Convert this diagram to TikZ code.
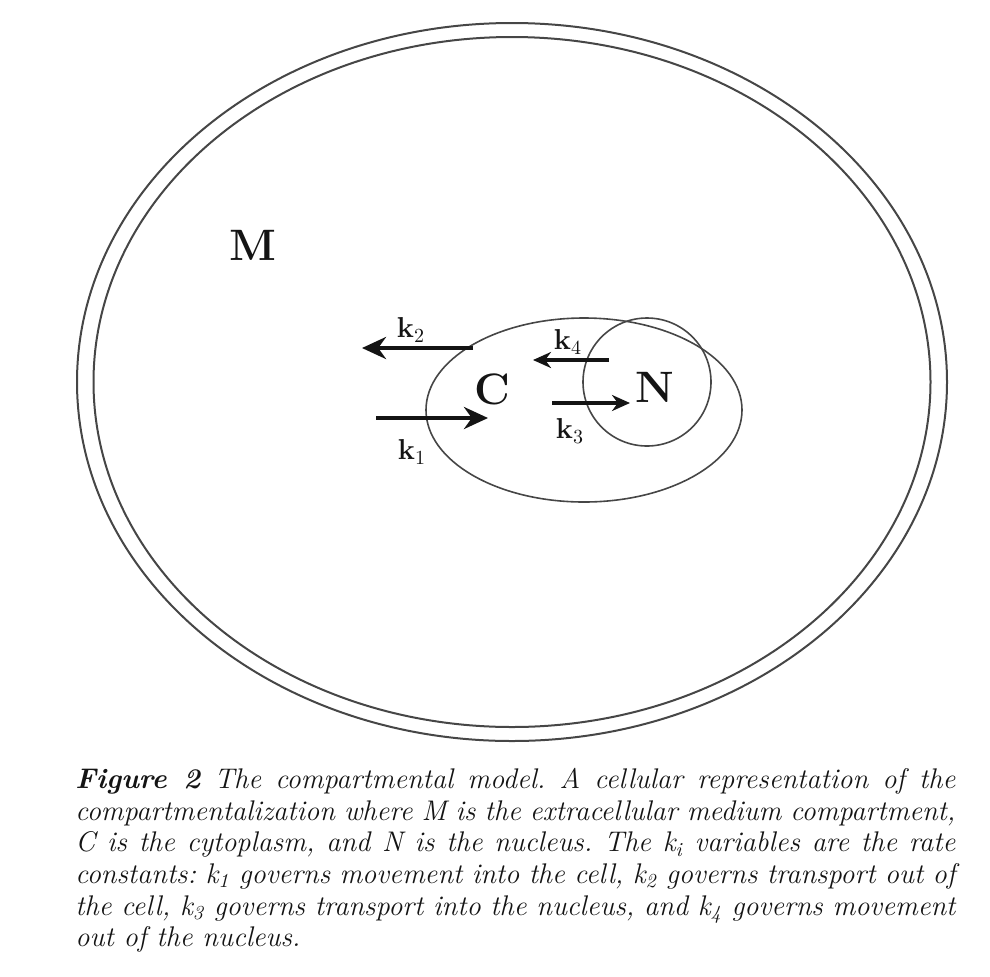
\documentclass[tikz,border=0pt]{standalone}
\usepackage{xcolor}
\usepackage{amsmath}
\usepackage{tikz}
\usetikzlibrary{shapes.geometric, arrows.meta, positioning}
\definecolor{linegray}{RGB}{70,70,70}
\definecolor{inkdark}{RGB}{20,20,20}
\tikzset{
  membrane/.style={ellipse, draw=linegray, line width=1pt,
    inner sep=0pt, outer sep=0pt},
  compname/.style={font=\fontsize{22}{26}\selectfont\bfseries, text=inkdark, inner sep=0pt},
  ratename/.style={font=\fontsize{14}{16}\selectfont, text=inkdark, inner sep=0pt},
  bigflux/.style={-{Stealth[length=12pt, width=11pt]}, line width=2.4pt, color=inkdark},
  smallflux/.style={-{Stealth[length=9pt, width=8pt]}, line width=1.6pt, color=inkdark}
}

\begin{document}
\begin{tikzpicture}[x=0.5pt, y=-0.5pt]
  \useasboundingbox (0,0) rectangle (990,976);

  % --- Cell wall (double line) ---
  \node[membrane, minimum width=435pt, minimum height=359pt] (wallout) at (512,382) {};
  \node[membrane, minimum width=418.5pt, minimum height=345pt] (wallin) at (512,382) {};

  % --- Cytoplasm and nucleus ---
  \node[membrane, line width=0.8pt, minimum width=158pt, minimum height=92pt] (cyto) at (584,410) {};
  \node[membrane, circle, line width=0.8pt, minimum size=64pt] (nucleus) at (647,382) {};

  % Compartment names
  \node[compname] (lblM) at (253,245) {M};
  \node[compname] (lblC) at (492,389) {C};
  \node[compname] (lblN) at (655,387) {N};

  % --- Transport between M and C ---
  \coordinate (k2start) at (473,348);
  \coordinate (k2end) at (362,348);
  \coordinate (k1start) at (376,418);
  \coordinate (k1end) at (488,418);
  \draw[bigflux] (k2start) -- (k2end);
  \draw[bigflux] (k1start) -- (k1end);
  \node[ratename] (lblk2) at (411,330) {$\mathbf{k}_2$};
  \node[ratename] (lblk1) at (412,452) {$\mathbf{k}_1$};

  % --- Transport between C and N ---
  \coordinate (k4start) at (609,360);
  \coordinate (k4end) at (533,360);
  \coordinate (k3start) at (552,403);
  \coordinate (k3end) at (630,403);
  \draw[smallflux] (k4start) -- (k4end);
  \draw[smallflux] (k3start) -- (k3end);
  \node[ratename] (lblk4) at (568,342) {$\mathbf{k}_4$};
  \node[ratename] (lblk3) at (570,431) {$\mathbf{k}_3$};

  % Caption
  \node[anchor=north west, inner sep=0pt, text width=440pt, align=justify,
        font=\fontsize{14.2}{15.8}\selectfont\itshape, text=inkdark] (caption) at (75,768)
    {\frenchspacing\hyphenpenalty=10000\textbf{Figure 2} The compartmental model. A cellular representation of the\linebreak
     compartmentalization where M is the extracellular medium compartment,\linebreak
     C is the cytoplasm, and N is the nucleus. The k\textsubscript{\itshape i} variables are the rate\linebreak
     constants: k\textsubscript{1} governs movement into the cell, k\textsubscript{2} governs transport out of\linebreak
     the cell, k\textsubscript{3} governs transport into the nucleus, and k\textsubscript{4} governs movement\linebreak
     out of the nucleus.};
\end{tikzpicture}
\end{document}
